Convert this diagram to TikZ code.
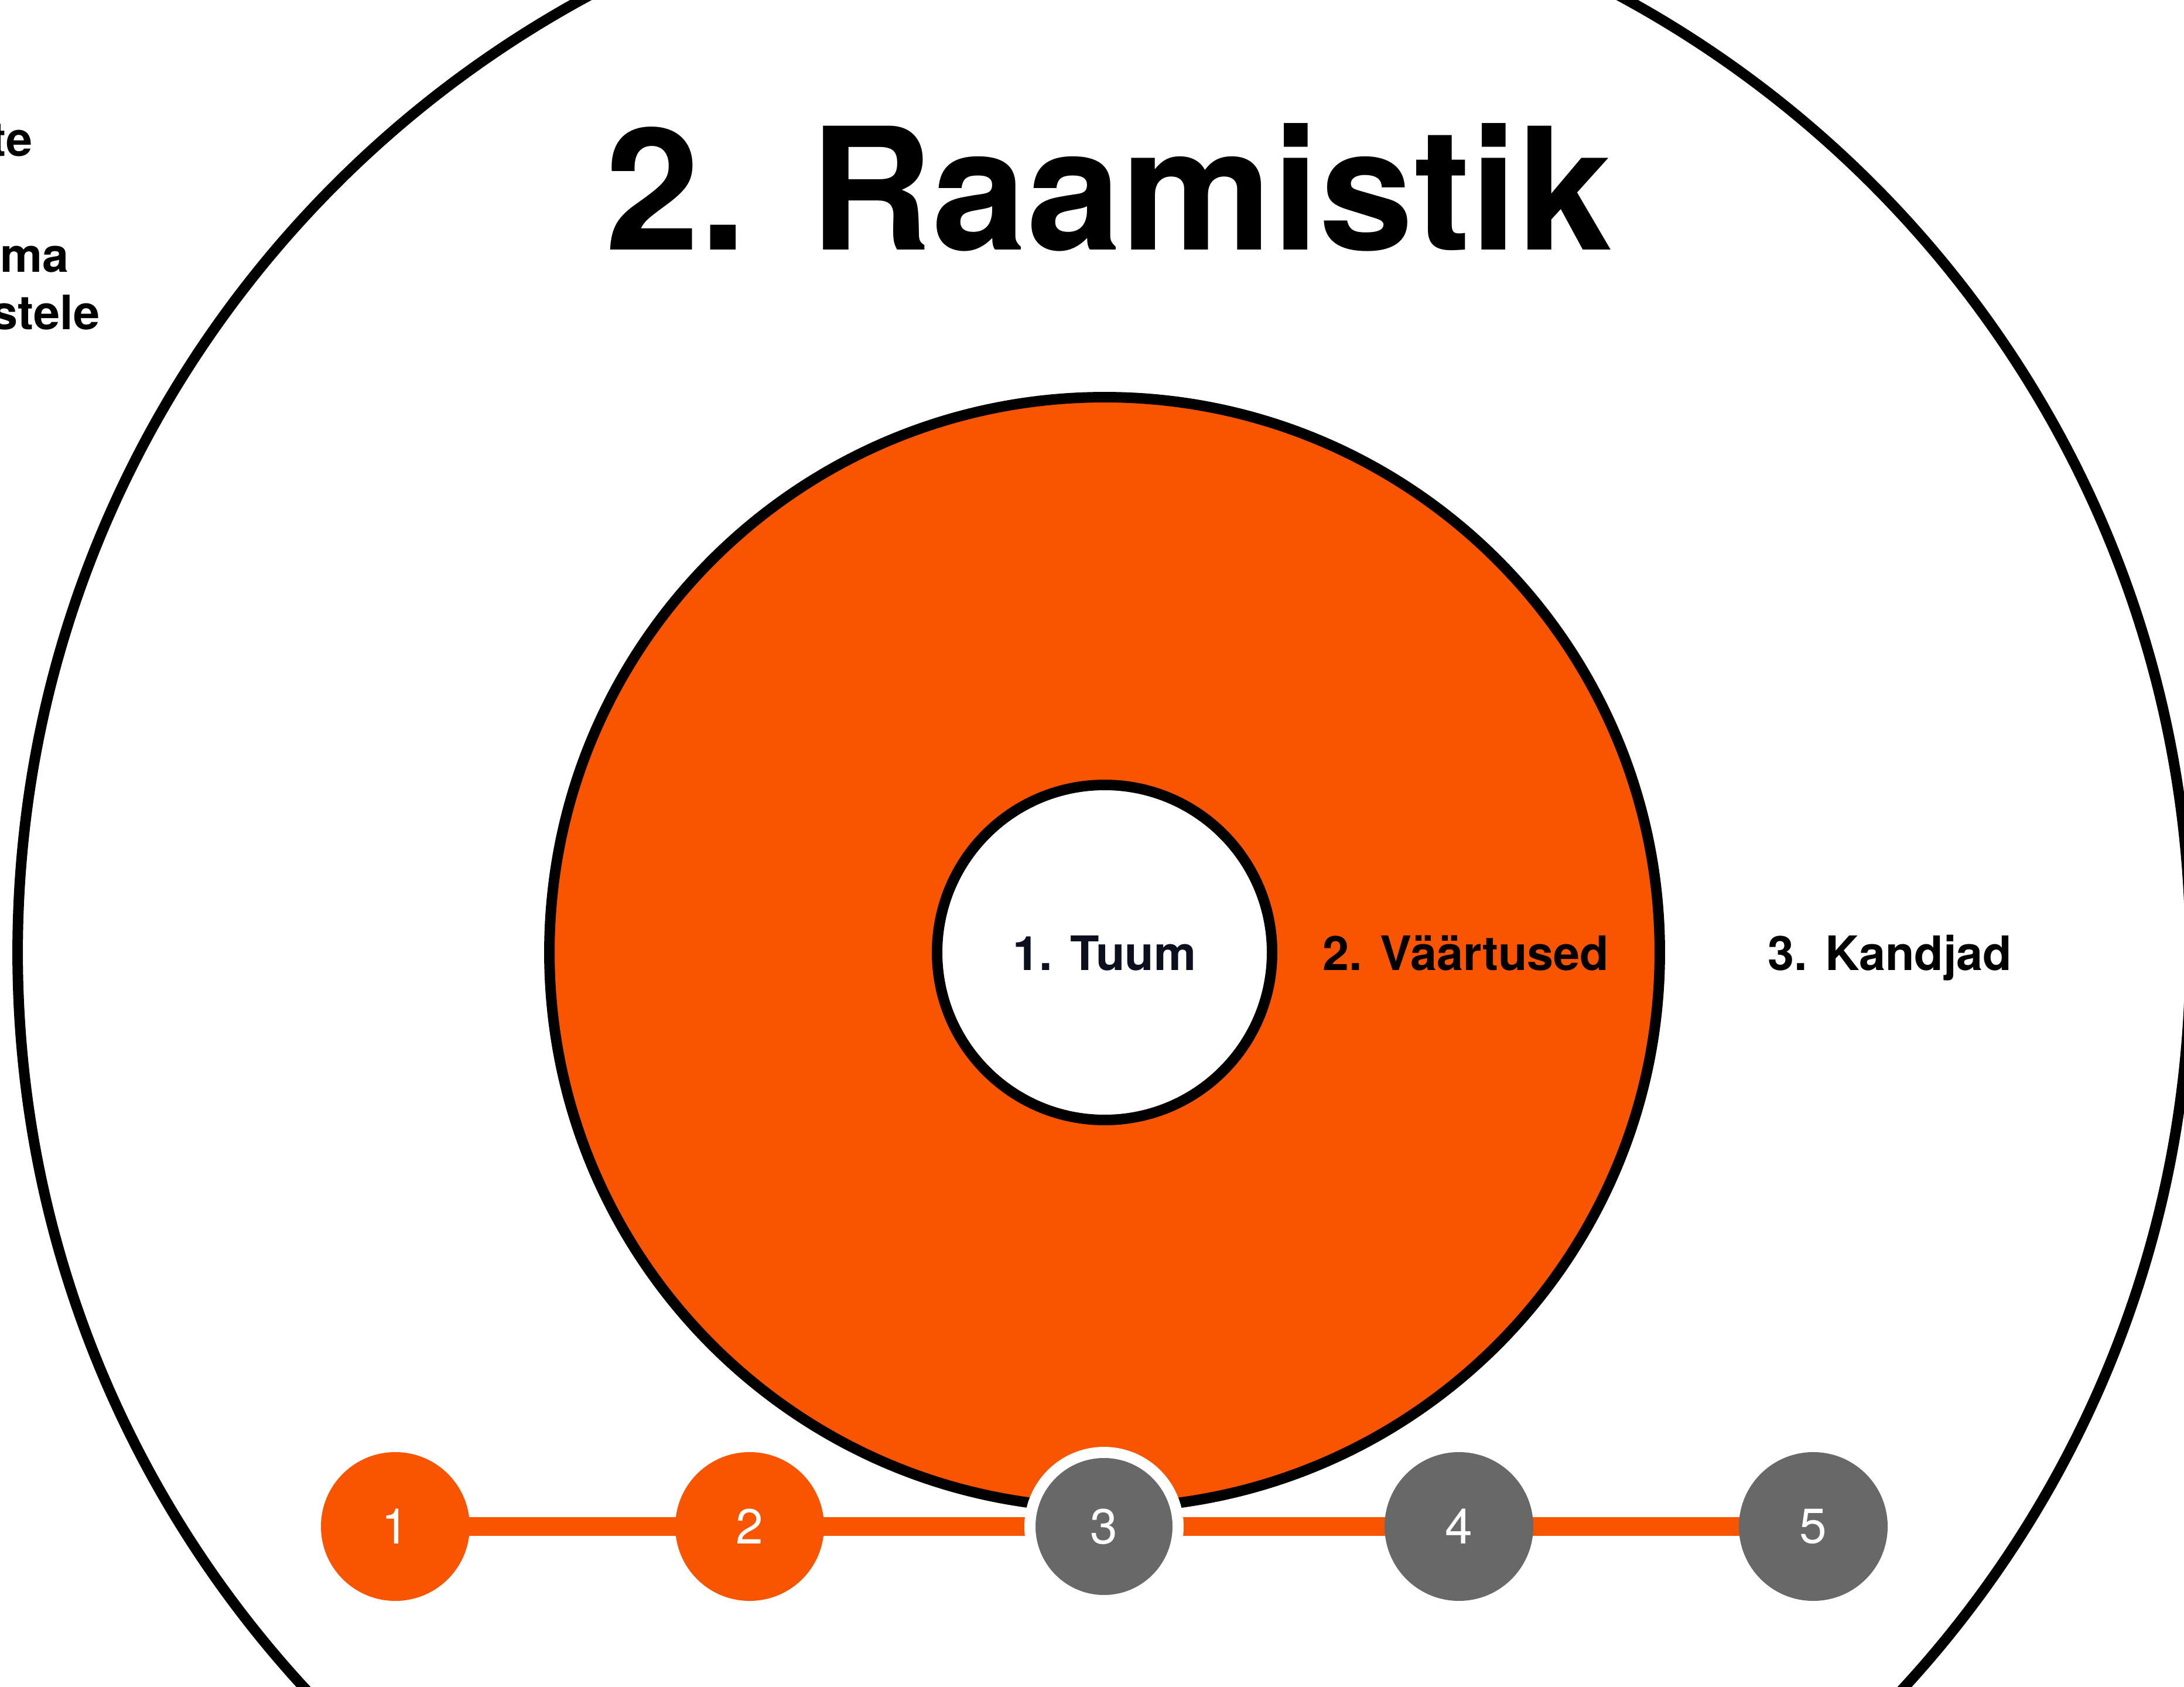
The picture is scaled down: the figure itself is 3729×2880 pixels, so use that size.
\documentclass[tikz,border=0pt]{standalone}
\usepackage{fontspec}
\setmainfont{TeX Gyre Heros}
\usetikzlibrary{backgrounds}
\definecolor{vorange}{HTML}{F95400}
\definecolor{vgray}{HTML}{686868}
\definecolor{vnavy}{HTML}{0B0F1E}
\begin{document}
\begin{tikzpicture}[x=0.1pt,y=-0.1pt,
  ring/.style={circle, draw=black, line width=1.8pt, inner sep=0pt, outer sep=0pt},
  stepnode/.style={circle, fill=vorange, minimum size=25.4pt, inner sep=0pt, outer sep=0pt,
    text=white, font=\fontsize{8.4}{10}\selectfont},
  graystep/.style={stepnode, fill=vgray},
  labeltext/.style={font=\bfseries\fontsize{8.1}{10}\selectfont, anchor=base, inner sep=0pt},
  fragment/.style={font=\bfseries\fontsize{8.1}{10}\selectfont, anchor=base east, inner sep=0pt},
  bar/.style={draw=vorange, line width=3.2pt}]
\useasboundingbox (0,0) rectangle (3729,2880);
% circles
\node[ring, minimum size=371pt] (outer) at (1885,1626) {};
\node[ring, minimum size=189.6pt, fill=vorange] (values) at (1886,1626) {};
\node[ring, minimum size=57.2pt, fill=white] (core) at (1886,1626) {};
% title
\node[anchor=base, inner sep=0pt, font=\bfseries\fontsize{29}{32}\selectfont] (title) at (1893,427) {2. Raamistik};
% cut-off text on the left
\node[fragment] (f1) at (57,267) {te};
\node[fragment] (f2) at (120,465) {uma};
\node[fragment] (f3) at (172,563) {stele};
% ring labels
\node[labeltext, text=vnavy] (l1) at (1886,1657) {1. Tuum};
\node[labeltext] (l2) at (2503,1657) {2. Väärtused};
\node[labeltext] (l3) at (3227,1657) {3. Kandjad};
% progress steps
\node[stepnode] (s1) at (675,2606) {1};
\node[stepnode] (s2) at (1280,2606) {2};
\node[graystep, draw=white, line width=1.9pt, minimum size=25.3pt] (s3) at (1885,2606) {3};
\node[graystep] (s4) at (2491,2606) {4};
\node[graystep] (s5) at (3096,2606) {5};
\begin{scope}[on background layer]
  \fill[white] (0,0) rectangle (3729,2880);
  \draw[bar] (s1.center) -- (s2.center) -- (s3.center) -- (s4.center) -- (s5.center);
\end{scope}
\end{tikzpicture}
\end{document}
